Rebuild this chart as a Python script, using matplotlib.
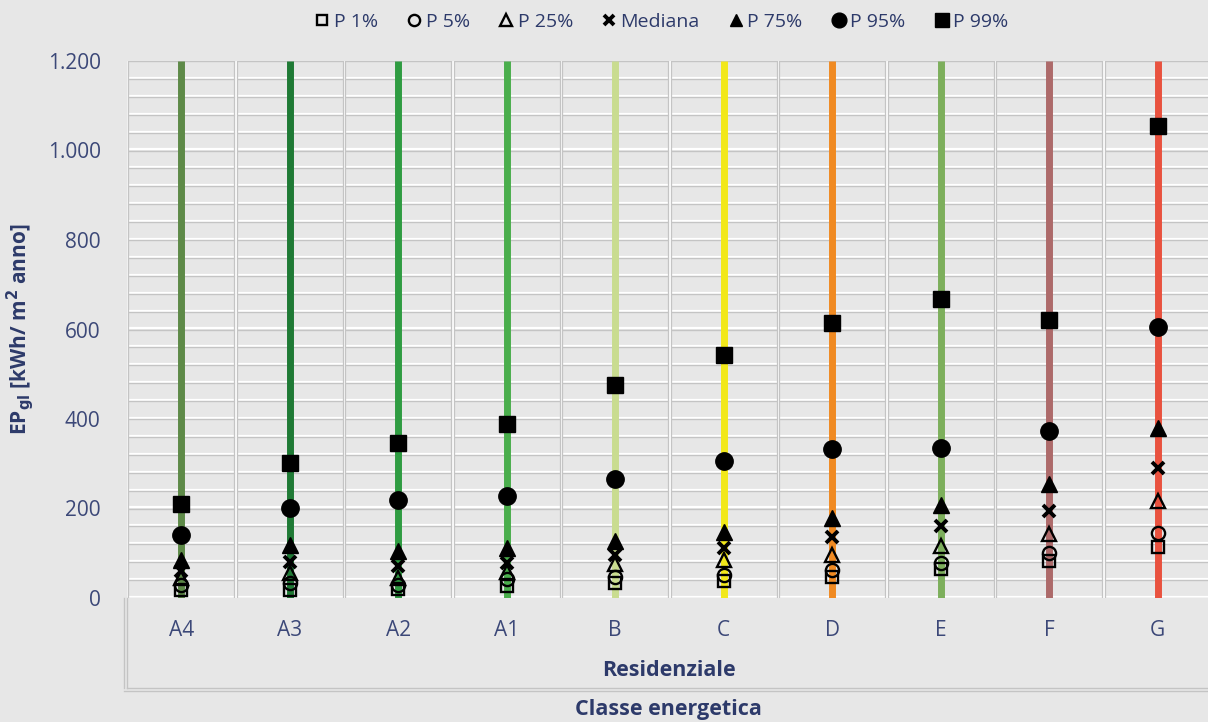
import matplotlib
matplotlib.use("Agg")
import matplotlib.pyplot as plt
from matplotlib.ticker import FuncFormatter, FixedLocator
from matplotlib.lines import Line2D

categories = ["A4", "A3", "A2", "A1", "B", "C", "D", "E", "F", "G"]
class_colors = ["#5e8a48", "#1f7a35", "#2f9c42", "#4aae4c", "#c9dc90",
                "#f2e81a", "#f08a22", "#7daf5c", "#ad6a6a", "#e9523f"]

series_names = ["P 1%", "P 5%", "P 25%", "Mediana", "P 75%", "P 95%", "P 99%"]
p1 = [18, 18, 20, 27, 34, 38, 47, 64, 82, 113]
p5 = [28, 33, 30, 42, 46, 51, 63, 78, 100, 145]
p25 = [45, 55, 45, 58, 76, 84, 97, 116, 143, 216]
mediana = [60, 80, 71, 78, 97, 111, 137, 160, 194, 290]
p75 = [84, 118, 104, 112, 127, 148, 178, 208, 255, 380]
p95 = [141, 202, 219, 229, 266, 307, 334, 336, 374, 606]
p99 = [211, 302, 346, 389, 476, 543, 615, 669, 621, 1055]
series_values = [p1, p5, p25, mediana, p75, p95, p99]

marker_styles = [
    dict(marker="s", ms=9, mfc="none", mec="black", mew=1.7),
    dict(marker="o", ms=9.5, mfc="none", mec="black", mew=1.7),
    dict(marker="^", ms=9.5, mfc="none", mec="black", mew=1.7),
    dict(marker="x", ms=9, mfc="black", mec="black", mew=2.8),
    dict(marker="^", ms=11, mfc="black", mec="black", mew=1),
    dict(marker="o", ms=12.5, mfc="black", mec="black", mew=1),
    dict(marker="s", ms=11.5, mfc="black", mec="black", mew=1),
]

bg = "#e7e7e7"
navy = "#2d3a6a"
tickc = "#3c4878"

plt.rcParams["font.family"] = ["Open Sans", "DejaVu Sans"]

W, H = 1208, 722
fig = plt.figure(figsize=(W / 100, H / 100), dpi=100, facecolor=bg)
left_px, right_px, top_px, bot_px = 127, 1212, 61, 598
ax = fig.add_axes([left_px / W, 1 - bot_px / H, (right_px - left_px) / W, (bot_px - top_px) / H])
ax.set_facecolor(bg)

x = list(range(len(categories)))
ax.set_xlim(-0.5, len(categories) - 0.5)
ax.set_ylim(0, 1200)

# embossed grid
for v in range(0, 1201, 40):
    ax.axhline(v + 2.4, color="white", lw=1.6, zorder=0.5)
    ax.axhline(v, color="#c4c4c4", lw=1.0, zorder=0.6)
for b in [i - 0.5 for i in range(len(categories) + 1)]:
    ax.axvline(b, color="white", lw=2.0, zorder=0.7)
    ax.axvline(b - 0.011, color="#c4c4c4", lw=0.9, zorder=0.8)
    ax.axvline(b + 0.011, color="#c4c4c4", lw=0.9, zorder=0.8)

# class colored lines
for xi, c in zip(x, class_colors):
    ax.plot([xi, xi], [0, 1200], color=c, lw=5, solid_capstyle="butt", zorder=2)

for name, vals, st in zip(series_names, series_values, marker_styles):
    ax.plot(x, vals, linestyle="none", zorder=3, label=name, **st)

for s in ax.spines.values():
    s.set_visible(False)

ax.yaxis.set_major_locator(FixedLocator(range(0, 1201, 200)))
ax.yaxis.set_major_formatter(FuncFormatter(lambda v, p: f"{int(v):,}".replace(",", ".")))
ax.set_xticks(x)
ax.set_xticklabels(categories)
ax.tick_params(axis="both", length=0, labelsize=15, colors=tickc)
ax.tick_params(axis="x", pad=16)
ax.tick_params(axis="y", pad=19)

ax.set_ylabel(r"EP$_{\mathbf{gl}}$ [kWh/ m$^{\mathbf{2}}$ anno]", fontsize=15,
              fontweight="bold", color=navy)
ax.yaxis.set_label_coords((36 - left_px) / (right_px - left_px), 0.5)

# lower category box
line_kw = dict(color="#c4c4c4", lw=1.0, transform=fig.transFigure, figure=fig)
fig.lines.append(Line2D([left_px / W, left_px / W], [1 - bot_px / H, 1 - 688 / H], **line_kw))
fig.lines.append(Line2D([(left_px - 3) / W, (left_px - 3) / W], [1 - bot_px / H, 1 - 688 / H], **line_kw))
fig.lines.append(Line2D([left_px / W, 1], [1 - 688 / H, 1 - 688 / H], **line_kw))
fig.lines.append(Line2D([(left_px - 3) / W, 1], [1 - 691 / H, 1 - 691 / H], **line_kw))

fig.text(669 / W, 1 - 670 / H, "Residenziale", ha="center", va="center",
         fontsize=15.5, fontweight="bold", color=navy)
fig.text(668 / W, 1 - 709 / H, "Classe energetica", ha="center", va="center",
         fontsize=15.5, fontweight="bold", color=navy)

handles, labels = ax.get_legend_handles_labels()
fig.legend(handles, labels, loc="center", bbox_to_anchor=(662 / W, 1 - 22 / H), ncol=7,
           frameon=False, fontsize=14, markerscale=0.85, handlelength=0.7,
           handletextpad=0.25, columnspacing=1.5, labelcolor=navy)

fig.savefig("out.png", dpi=100, facecolor=bg)
